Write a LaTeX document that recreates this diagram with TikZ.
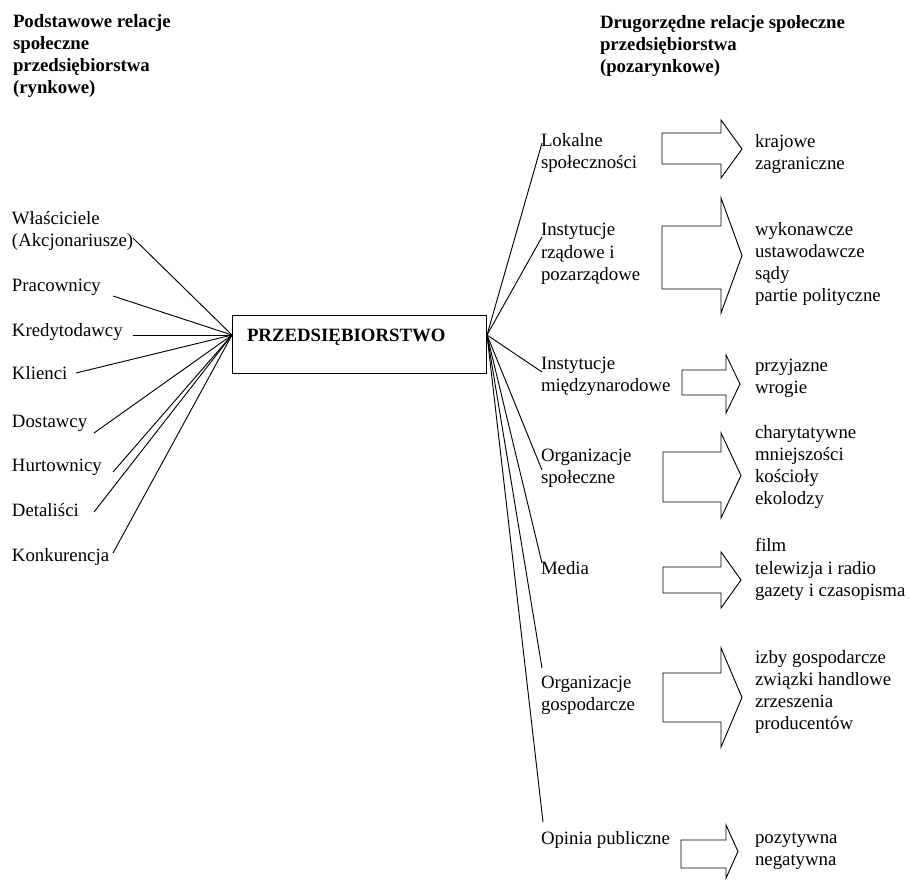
\documentclass[tikz,border=0pt]{standalone}
\usepackage{fontspec}
\setmainfont{Liberation Serif}
\newcommand\BlockArr[7]{%
  \draw[blk] (#1,#2) -- (#4,#2) -- (#4,#5) -- (#7,{(#5+#6)/2}) -- (#4,#6) -- (#4,#3) -- (#1,#3) -- cycle;}
\begin{document}
\begin{tikzpicture}[x=0.75pt,y=-0.75pt,
  txt/.style={anchor=base west, inner sep=0pt, outer sep=0pt, align=left, font=\fontsize{14.1}{16.7}\selectfont},
  head/.style={txt, font=\fontsize{14.1}{16.5}\selectfont\bfseries},
  conn/.style={line width=0.7pt},
  blk/.style={line width=0.7pt},
  firmbox/.style={draw, line width=0.75pt, anchor=base west, outer sep=0pt, inner xsep=11.25pt, inner ysep=0pt,
    text width=168pt, align=left, text height=19.5pt, text depth=24pt, font=\fontsize{14.1}{16.7}\selectfont\bfseries}]
\useasboundingbox (0,0) rectangle (910,879);

% headings (anchor = baseline of last line)
\node[head] (hl) at (13,93) {Podstawowe relacje\\społeczne\\przedsiębiorstwa\\(rynkowe)};
\node[head] (hr) at (600,72) {Drugorzędne relacje społeczne\\przedsiębiorstwa\\(pozarynkowe)};

% central box
\node[firmbox] (firm) at (232,341) {PRZEDSIĘBIORSTWO};
\coordinate (L) at ([shift={(0,-9)}]firm.west);
\coordinate (R) at ([shift={(1,-9)}]firm.east);

% left labels
\node[txt] (wl) at (12,246.3) {Właściciele\\(Akcjonariusze)};
\node[txt] (pr) at (12,291) {Pracownicy};
\node[txt] (kr) at (12,336) {Kredytodawcy};
\node[txt] (kl) at (12,379) {Klienci};
\node[txt] (do) at (12,427) {Dostawcy};
\node[txt] (hu) at (12,471) {Hurtownicy};
\node[txt] (de) at (12,516) {Detaliści};
\node[txt] (ko) at (12,561) {Konkurencja};

\draw[conn] (L) -- ([shift={(121,-8.3)}]wl.base west);
\draw[conn] (L) -- ([shift={(101,5)}]pr.base west);
\draw[conn] (L) -- ([shift={(121,-1)}]kr.base west);
\draw[conn] (L) -- ([shift={(64,-6)}]kl.base west);
\draw[conn] (L) -- ([shift={(82,6)}]do.base west);
\draw[conn] (L) -- ([shift={(101,1)}]hu.base west);
\draw[conn] (L) -- ([shift={(82,-4)}]de.base west);
\draw[conn] (L) -- ([shift={(101,-8)}]ko.base west);

% right labels
\node[txt] (lok) at (541,168.3) {Lokalne\\społeczności};
\node[txt] (irz) at (541,280.5) {Instytucje\\rządowe i\\pozarządowe};
\node[txt] (imn) at (541,391.3) {Instytucje\\międzynarodowe};
\node[txt] (osp) at (541,483.3) {Organizacje\\społeczne};
\node[txt] (med) at (541,574) {Media};
\node[txt] (ogo) at (541,710.3) {Organizacje\\gospodarcze};
\node[txt] (opi) at (541,844) {Opinia publiczne};

\draw[conn] (R) -- ([shift={(1,-25.3)}]lok.base west);
\draw[conn] (R) -- ([shift={(1,-43.5)}]irz.base west);
\draw[conn] (R) -- ([shift={(1,-19.3)}]imn.base west);
\draw[conn] (R) -- ([shift={(1,-13.3)}]osp.base west);
\draw[conn] (R) -- ([shift={(1,-11)}]med.base west);
\draw[conn] (R) -- ([shift={(1,-42.3)}]ogo.base west);
\draw[conn] (R) -- ([shift={(2,-22)}]opi.base west);

% block arrows
\BlockArr{662}{133}{164}{721}{120}{178}{742}
\BlockArr{662}{226}{289}{721}{198}{313}{742}
\BlockArr{682}{370}{395}{726}{355}{413}{740}
\BlockArr{663}{452}{502}{721}{433}{518}{741}
\BlockArr{663}{567}{593}{721}{552}{608}{741}
\BlockArr{663}{673}{722}{721}{648}{747}{742}
\BlockArr{681}{840}{868}{726}{825}{878}{738}

% outcomes
\node[txt] (o1) at (755,169.3) {krajowe\\zagraniczne};
\node[txt] (o2) at (755,301.8) {wykonawcze\\ustawodawcze\\sądy\\partie polityczne};
\node[txt] (o3) at (755,393.3) {przyjazne\\wrogie};
\node[txt] (o4) at (755,504.8) {charytatywne\\mniejszości\\kościoły\\ekolodzy};
\node[txt] (o5) at (755,596.5) {film\\telewizja i radio\\gazety i czasopisma};
\node[txt] (o6) at (755,729.8) {izby gospodarcze\\związki handlowe\\zrzeszenia\\producentów};
\node[txt] (o7) at (755,865.3) {pozytywna\\negatywna};
\end{tikzpicture}
\end{document}
